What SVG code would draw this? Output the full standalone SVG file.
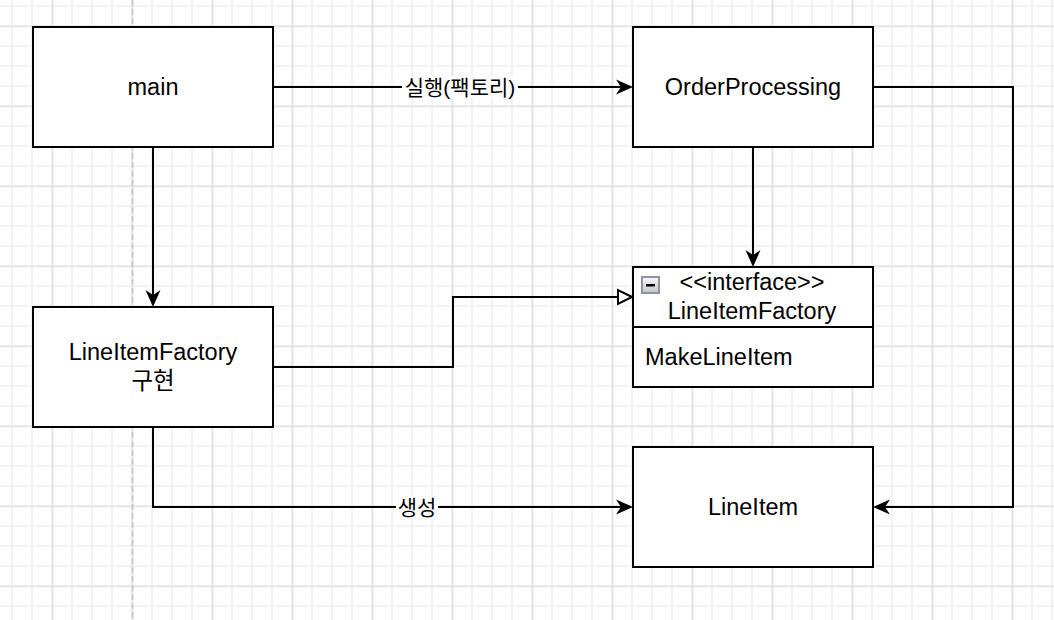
<svg xmlns="http://www.w3.org/2000/svg" width="1054" height="620" viewBox="0 0 1054 620">
  <style>
    .node { fill: #ffffff; stroke: #000000; stroke-width: 2; }
    .lbl { font-family: "Liberation Sans", "Noto Sans CJK KR", sans-serif; font-size: 23.5px; fill: #000000; }
    .elbl { font-family: "Liberation Sans", "Noto Sans CJK KR", sans-serif; font-size: 21px; fill: #000000; }
    .edge { fill: none; stroke: #000000; stroke-width: 2; }
  </style>
  <defs>
    <pattern id="minor" x="2" y="-4" width="20" height="20" patternUnits="userSpaceOnUse">
      <path d="M10 0V20M0 10H20" stroke="#efefef" stroke-width="1.6" fill="none"/>
    </pattern>
    <pattern id="major" x="12.5" y="-13.5" width="80" height="80" patternUnits="userSpaceOnUse">
      <path d="M40 0V80M0 40H80" stroke="#d8d8d8" stroke-width="1" fill="none"/>
    </pattern>
    <linearGradient id="iconGrad" x1="0" y1="0" x2="0" y2="1">
      <stop offset="0" stop-color="#fafafa"/>
      <stop offset="1" stop-color="#c4c4c4"/>
    </linearGradient>
    <marker id="arrow" viewBox="-6 -9 20 18" refX="0" refY="0" markerWidth="20" markerHeight="18" markerUnits="userSpaceOnUse" orient="auto">
      <path d="M12 0 L-5 -7.5 L0 0 L-5 7.5 Z" fill="#000000"/>
    </marker>
    <marker id="tri" viewBox="-2 -9 19 18" refX="0" refY="0" markerWidth="19" markerHeight="18" markerUnits="userSpaceOnUse" orient="auto">
      <path d="M14 0 L0 -7 L0 7 Z" fill="#ffffff" stroke="#000000" stroke-width="2"/>
    </marker>
  </defs>

  <rect x="0" y="0" width="1054" height="620" fill="#ffffff"/>
  <rect x="0" y="0" width="1054" height="620" fill="url(#minor)"/>
  <rect x="0" y="0" width="1054" height="620" fill="url(#major)"/>
  <line x1="132.5" y1="0" x2="132.5" y2="620" stroke="#c4c4c4" stroke-width="1.5" stroke-dasharray="6 3"/>

  <g id="connectors">
    <path class="edge" d="M273 87 H621" marker-end="url(#arrow)"/>
    <path class="edge" d="M153 147 V295" marker-end="url(#arrow)"/>
    <path class="edge" d="M753 147 V255" marker-end="url(#arrow)"/>
    <path class="edge" d="M273 367 H453 V297 H618" marker-end="url(#tri)"/>
    <path class="edge" d="M153 427 V507 H621" marker-end="url(#arrow)"/>
    <path class="edge" d="M873 87 H1013 V507 H885" marker-end="url(#arrow)"/>
    <g id="label-run">
      <rect x="402" y="76" width="116" height="22" fill="#ffffff"/>
      <text class="elbl" x="460" y="94.5" text-anchor="middle">실행(팩토리)</text>
    </g>
    <g id="label-create">
      <rect x="396" y="496" width="42" height="22" fill="#ffffff"/>
      <text class="elbl" x="417" y="514.5" text-anchor="middle">생성</text>
    </g>
  </g>

  <g id="main">
    <rect class="node" x="33" y="27" width="240" height="120"/>
    <text class="lbl" x="153" y="95" text-anchor="middle">main</text>
  </g>

  <g id="orderprocessing">
    <rect class="node" x="633" y="27" width="240" height="120"/>
    <text class="lbl" x="753" y="95" text-anchor="middle">OrderProcessing</text>
  </g>

  <g id="lineitemfactory-impl">
    <rect class="node" x="33" y="307" width="240" height="120"/>
    <text class="lbl" x="153" y="360" text-anchor="middle">LineItemFactory</text>
    <text class="lbl" x="153" y="389" text-anchor="middle">구현</text>
  </g>

  <g id="lineitemfactory-interface">
    <rect class="node" x="633" y="267" width="240" height="120"/>
    <line x1="633" y1="327" x2="873" y2="327" stroke="#000000" stroke-width="2"/>
    <rect x="642" y="277" width="17" height="16" fill="url(#iconGrad)" stroke="#8b93a6" stroke-width="2"/>
    <rect x="646" y="284" width="9" height="2.5" fill="#000000"/>
    <text class="lbl" x="752" y="290" text-anchor="middle">&lt;&lt;interface&gt;&gt;</text>
    <text class="lbl" x="752" y="319" text-anchor="middle">LineItemFactory</text>
    <text class="lbl" x="645" y="365">MakeLineItem</text>
  </g>

  <g id="lineitem">
    <rect class="node" x="633" y="447" width="240" height="120"/>
    <text class="lbl" x="753" y="515" text-anchor="middle">LineItem</text>
  </g>
</svg>
